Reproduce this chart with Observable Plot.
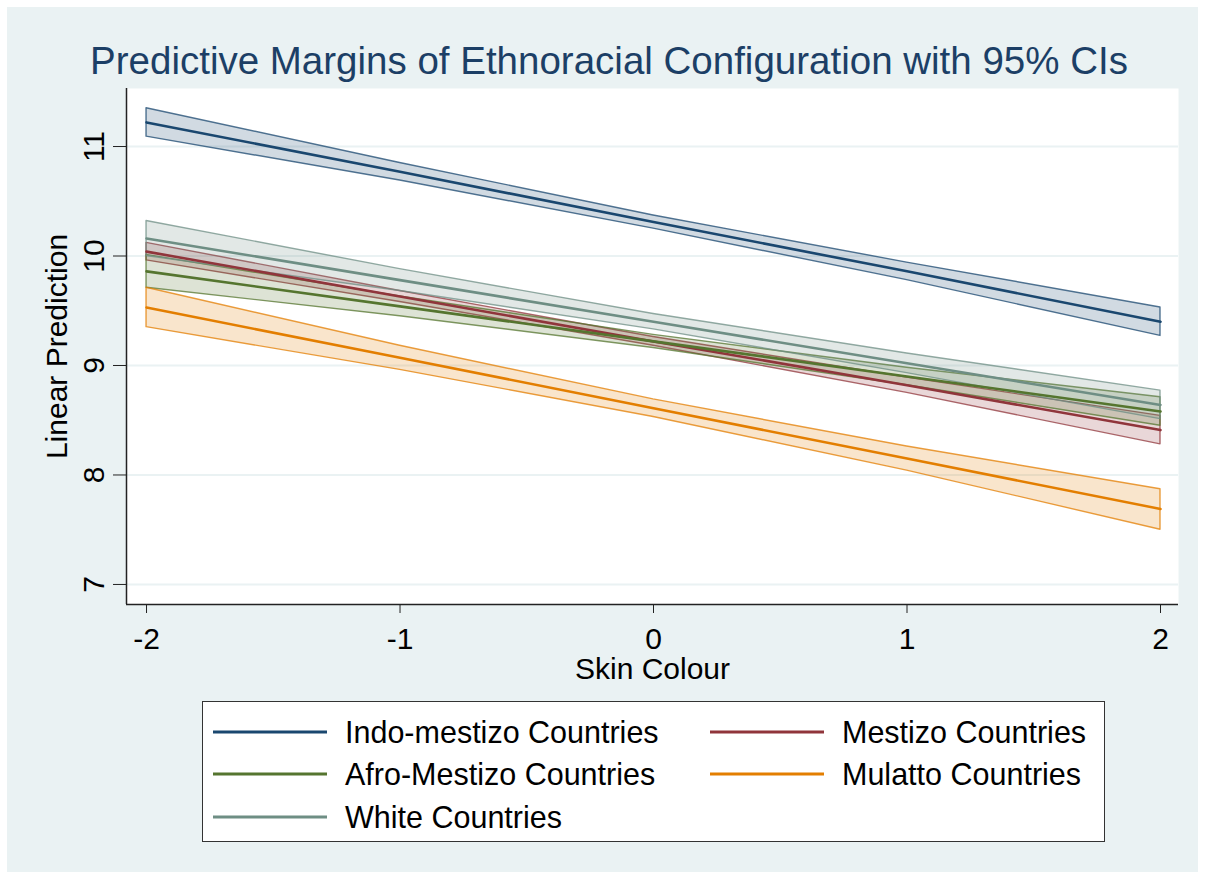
<!DOCTYPE html>
<html>
<head>
<meta charset="utf-8">
<script src="https://cdn.jsdelivr.net/npm/d3@7"></script>
<script src="https://cdn.jsdelivr.net/npm/@observablehq/plot@0.6"></script>
<style>
  html, body { margin: 0; padding: 0; background: #ffffff; }
  body { position: relative; width: 1205px; height: 879px; overflow: hidden;
         font-family: "Liberation Sans", Arial, sans-serif; }
  #bg { position: absolute; left: 7px; top: 7px; width: 1191px; height: 865px; background: #eaf2f3; }
  #title { position: absolute; left: 9px; top: 42px; width: 1200px; text-align: center;
           font-size: 38.5px; line-height: 37px; color: #1c3f66; white-space: nowrap; }
  #chart { position: absolute; left: 0; top: 80px; }
  #legend { position: absolute; left: 202px; top: 701px; width: 903px; height: 141px;
            box-sizing: border-box; background: #ffffff; border: 1.5px solid #333333; }
  .entry { position: absolute; height: 40px; display: flex; align-items: center; }
  .entry span { font-size: 30.5px; color: #000; margin-left: 18px; white-space: nowrap; }
</style>
</head>
<body>
<div id="bg"></div>
<div id="title">Predictive Margins of Ethnoracial Configuration with 95% CIs</div>
<div id="chart"></div>
<div id="legend"></div>
<script>
// Skin colour values at which the margins were evaluated
const skinColour = [-2, -1, 0, 1, 2];

// Series names (legend order) and their colours
const seriesNames = [
  "Indo-mestizo Countries",
  "Mestizo Countries",
  "Afro-Mestizo Countries",
  "Mulatto Countries",
  "White Countries"
];
const seriesColors = ["#1a476f", "#90353b", "#55752f", "#e37e00", "#6e8e84"];

// Predicted margins and 95% confidence bounds, one set per configuration
const indoMargin   = [11.22, 10.77, 10.31, 9.86, 9.40];
const indoLower    = [11.09, 10.69, 10.25, 9.78, 9.27];
const indoUpper    = [11.35, 10.85, 10.37, 9.94, 9.53];

const mestizoMargin = [10.04, 9.63, 9.22, 8.82, 8.41];
const mestizoLower  = [9.96, 9.58, 9.18, 8.75, 8.28];
const mestizoUpper  = [10.12, 9.68, 9.26, 8.89, 8.54];

const afroMargin   = [9.86, 9.54, 9.22, 8.90, 8.58];
const afroLower    = [9.71, 9.45, 9.16, 8.82, 8.45];
const afroUpper    = [10.01, 9.63, 9.28, 8.98, 8.71];

const mulattoMargin = [9.53, 9.07, 8.61, 8.15, 7.69];
const mulattoLower  = [9.35, 8.96, 8.53, 8.04, 7.50];
const mulattoUpper  = [9.71, 9.18, 8.69, 8.26, 7.87];

const whiteMargin  = [10.16, 9.78, 9.40, 9.02, 8.64];
const whiteLower   = [10.00, 9.68, 9.33, 8.93, 8.51];
const whiteUpper   = [10.32, 9.88, 9.47, 9.11, 8.77];

// Axis ticks
const xTicks = [-2, -1, 0, 1, 2];
const yTicks = [7, 8, 9, 10, 11];

const seriesValues = [
  [indoMargin, indoLower, indoUpper],
  [mestizoMargin, mestizoLower, mestizoUpper],
  [afroMargin, afroLower, afroUpper],
  [mulattoMargin, mulattoLower, mulattoUpper],
  [whiteMargin, whiteLower, whiteUpper]
];

// Long-format table for the marks
const rows = [];
seriesNames.forEach((name, i) => {
  const [m, lo, hi] = seriesValues[i];
  skinColour.forEach((x, j) => rows.push({series: name, x, margin: m[j], lower: lo[j], upper: hi[j]}));
});

const font = "Liberation Sans, Arial, sans-serif";

const chart = Plot.plot({
  width: 1205,
  height: 610,
  marginLeft: 126,
  marginRight: 27,
  marginTop: 8,
  marginBottom: 86,
  style: {background: "transparent", fontFamily: font, overflow: "visible"},
  x: {domain: [-2.079, 2.071]},
  y: {domain: [6.817, 11.53]},
  color: {domain: seriesNames, range: seriesColors},
  marks: [
    Plot.frame({fill: "#ffffff", stroke: null}),
    Plot.gridY(yTicks, {stroke: "#eaf2f3", strokeOpacity: 1, strokeWidth: 2}),
    // confidence bands
    Plot.areaY(rows, {x: "x", y1: "lower", y2: "upper", z: "series", fill: "series",
      fillOpacity: 0.2, stroke: "series", strokeOpacity: 0.75, strokeWidth: 1.4}),
    // predicted margins
    Plot.line(rows, {x: "x", y: "margin", z: "series", stroke: "series", strokeWidth: 2.6}),
    // axes
    Plot.axisX(xTicks, {tickSize: 9, tickPadding: 14, fontSize: 30, fill: "#000",
      stroke: "#222", tickFormat: d => d < 0 ? "-" + Math.abs(d) : String(d), label: null}),
    Plot.axisY(yTicks, {tickSize: 13, tickFormat: () => "", stroke: "#222", label: null}),
    Plot.text(yTicks, {y: d => d, frameAnchor: "left", textAnchor: "middle", dx: -32, rotate: -90,
      text: d => String(d), fontSize: 30, fill: "#000"}),
    Plot.ruleX([-2.079], {stroke: "#222", strokeWidth: 1.5}),
    Plot.ruleY([6.817], {stroke: "#222", strokeWidth: 1.5}),
    Plot.text(["Skin Colour"], {frameAnchor: "bottom", dy: 74, fontSize: 30, fill: "#000"}),
    Plot.text(["Linear Prediction"], {frameAnchor: "left", textAnchor: "middle", dx: -69, rotate: -90,
      fontSize: 30, fill: "#000"})
  ]
});
document.getElementById("chart").appendChild(chart);

// Legend: two columns, filled row by row
const legend = document.getElementById("legend");
const colX = [10, 507];
const rowY = [10, 52, 95];
seriesNames.forEach((name, i) => {
  const e = document.createElement("div");
  e.className = "entry";
  e.style.left = colX[i % 2] + "px";
  e.style.top = rowY[Math.floor(i / 2)] + "px";
  e.innerHTML = `<svg width="114" height="6"><line x1="0" x2="114" y1="3" y2="3" stroke="${seriesColors[i]}" stroke-width="3"/></svg><span>${name}</span>`;
  legend.appendChild(e);
});
</script>
</body>
</html>
